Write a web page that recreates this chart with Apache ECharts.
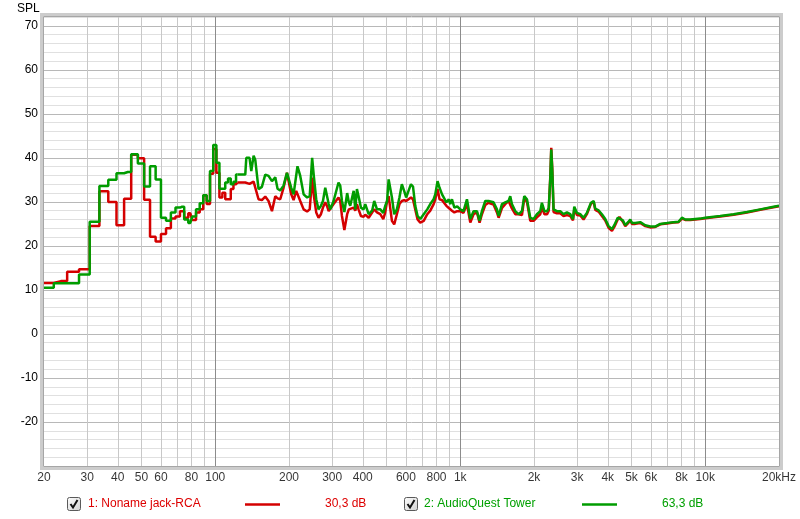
<!DOCTYPE html>
<html>
<head>
<meta charset="utf-8">
<script src="https://cdn.jsdelivr.net/npm/echarts@6/dist/echarts.min.js"></script>
<style>
html,body{margin:0;padding:0;background:#fff;}
#chart{width:800px;height:519px;}
</style>
</head>
<body>
<div id="chart"></div>
<script>
// ---- Low-frequency FFT bins (stepped part) ----
const freqLo = [20, 20.51, 23.44, 26.37, 29.30, 32.23, 35.16, 38.09, 41.02, 43.95, 46.88, 49.80, 52.73, 55.66, 58.59, 61.52, 64.45, 67.38, 70.31, 73.24, 76.17, 79.10, 82.03, 84.96, 87.89, 90.82, 93.75, 96.68, 99.61, 102.54, 105.47, 108.40, 111.33, 114.26, 117.19, 120.12, 123.05];
const redLo   = [11.6, 11.6, 12.0, 14.1, 14.7, 24.5, 32.4, 30.0, 24.7, 30.7, 40.7, 39.9, 30.5, 22.1, 21.0, 22.7, 24.0, 26.2, 26.7, 27.9, 26.4, 27.4, 25.9, 27.6, 28.3, 31.5, 29.5, 36.4, 42.0, 36.6, 31.0, 32.1, 30.6, 30.6, 32.9, 34.0, 34.4];
const greenLo = [10.5, 10.5, 11.5, 11.5, 13.5, 25.5, 33.6, 35.0, 36.5, 36.8, 40.8, 38.7, 33.5, 38.1, 35.1, 26.4, 25.7, 27.6, 28.7, 28.9, 26.0, 25.2, 26.7, 28.3, 29.7, 31.5, 30.2, 37.0, 42.9, 38.9, 33.0, 33.0, 34.4, 35.3, 34.0, 34.6, 36.2];

// ---- Higher frequencies (continuous part) ----
const freqHi = [123.05, 132.6, 133.9, 138.0, 140.3, 143.4, 145.7, 150.2, 155.0, 160.0, 165.0, 170.4, 175.8, 179.6, 184.2, 190.0, 196.2, 199.2, 204.3, 208.8, 214.0, 216.6, 222.3, 229.5, 237.1, 243.0, 248.6, 252.5, 258.3, 264.0, 270.0, 275.2, 281.2, 285.8, 290.4, 294.7, 304.1, 318.5, 323.7, 329.0, 336.5, 345.5, 351.0, 355.6, 367.3, 372.8, 378.7, 384.5, 393.2, 403.0, 409.5, 422.8, 436.8, 445.6, 457.4, 471.6, 485.1, 493.6, 502.8, 510.2, 518.0, 526.2, 537.6, 551.2, 564.7, 577.6, 590.2, 601.6, 615.0, 629.2, 641.3, 655.2, 669.6, 686.8, 709.4, 733.4, 754.5, 778.8, 790.7, 807.9, 823.2, 842.8, 855.4, 877.9, 898.2, 910.3, 925.0, 946.2, 972.0, 1000, 1031, 1065, 1081, 1099, 1133, 1170, 1199, 1226, 1265, 1305, 1326, 1367, 1412, 1434, 1480, 1526, 1575, 1600, 1625, 1677, 1730, 1786, 1825, 1872, 1931, 1992, 2055, 2121, 2154, 2207, 2262, 2297, 2330, 2352, 2375, 2404, 2480, 2559, 2640, 2726, 2812, 2885, 2920, 2995, 3089, 3186, 3287, 3417, 3505, 3556, 3668, 3786, 3907, 4032, 4161, 4254, 4393, 4467, 4610, 4716, 4866, 4943, 5024, 5180, 5429, 5690, 5964, 6252, 6552, 6980, 7424, 7780, 8030, 8287, 8685, 9103, 9541, 10000, 11510, 13050, 14800, 16770, 19000, 20000];
const redHi = [34.4, 34.4, 34.3, 34.1, 33.9, 34.6, 34.3, 30.6, 30.4, 31.2, 30.2, 27.9, 31.3, 30.8, 30.6, 33.2, 36.6, 36.4, 31.7, 30.4, 32.5, 32.5, 30.2, 28.3, 27.8, 28.3, 35.5, 31.5, 27.6, 26.4, 27.2, 28.7, 29.9, 29.1, 27.9, 28.3, 29.5, 31.0, 30.2, 26.8, 23.6, 27.2, 28.3, 28.7, 28.7, 28.0, 29.5, 28.3, 26.8, 26.6, 27.1, 26.4, 27.6, 28.3, 27.6, 27.2, 26.1, 27.5, 30.2, 31.3, 31.0, 25.7, 24.9, 27.2, 29.5, 30.2, 30.4, 30.2, 30.6, 31.0, 30.6, 28.3, 26.0, 25.3, 25.7, 27.2, 28.0, 29.5, 30.6, 32.9, 30.6, 30.4, 30.8, 29.1, 28.6, 28.3, 28.0, 27.6, 27.9, 27.9, 27.5, 29.5, 29.2, 25.3, 27.2, 27.6, 25.3, 27.2, 29.3, 29.8, 30.2, 29.4, 27.6, 26.4, 28.6, 29.5, 30.2, 30.6, 28.5, 27.2, 27.2, 27.0, 30.8, 30.0, 25.7, 25.7, 26.5, 27.2, 28.7, 27.2, 27.2, 28.0, 35.5, 42.3, 37.5, 27.7, 27.4, 27.4, 26.8, 27.0, 26.8, 25.8, 28.3, 27.0, 26.9, 26.0, 27.2, 29.6, 30.0, 28.2, 27.8, 26.8, 25.8, 24.1, 23.4, 24.3, 26.0, 26.6, 25.5, 24.5, 25.3, 25.8, 25.0, 25.0, 25.2, 24.5, 24.2, 24.3, 24.9, 25.1, 25.3, 25.4, 26.2, 25.9, 25.9, 26.0, 26.1, 26.3, 26.7, 27.1, 27.6, 28.2, 28.8, 29.0];
const greenHi = [36.2, 36.2, 40.0, 40.0, 37.0, 40.5, 39.5, 32.9, 33.4, 36.2, 35.9, 34.7, 35.6, 33.0, 32.6, 33.7, 36.6, 36.6, 33.2, 31.7, 36.0, 38.1, 35.9, 31.7, 31.0, 31.3, 40.0, 35.9, 30.6, 28.3, 29.1, 30.2, 33.2, 32.9, 29.5, 28.3, 30.2, 34.4, 33.7, 30.2, 27.7, 32.0, 29.9, 29.1, 32.5, 28.3, 32.9, 31.3, 28.7, 28.3, 29.5, 27.2, 28.0, 30.2, 28.3, 28.3, 27.5, 29.0, 30.2, 35.1, 35.1, 31.0, 27.2, 28.3, 31.0, 34.0, 32.5, 31.0, 32.5, 34.0, 33.5, 29.1, 26.8, 26.1, 27.2, 28.3, 29.5, 30.6, 31.7, 34.7, 33.2, 31.7, 32.1, 29.9, 30.6, 29.5, 30.6, 28.7, 29.0, 28.3, 27.9, 30.6, 30.2, 26.1, 27.9, 27.9, 25.7, 27.9, 30.2, 30.2, 30.6, 29.9, 28.3, 26.8, 29.5, 29.9, 30.2, 31.3, 29.5, 27.9, 27.2, 27.9, 31.3, 30.6, 26.4, 26.1, 27.2, 27.9, 29.8, 27.9, 27.9, 28.6, 35.1, 41.9, 37.0, 28.3, 27.9, 27.9, 27.2, 27.6, 27.2, 26.1, 28.9, 27.5, 27.2, 26.4, 27.5, 29.8, 30.2, 28.5, 28.1, 27.2, 26.1, 24.5, 23.8, 24.7, 26.4, 26.6, 25.8, 24.7, 25.5, 26.0, 25.2, 25.2, 25.4, 24.7, 24.4, 24.4, 25.0, 25.2, 25.4, 25.5, 26.4, 26.0, 26.0, 26.1, 26.2, 26.4, 26.8, 27.2, 27.7, 28.3, 28.9, 29.1];

// ---- Axis ticks ----
const xTickValues = [20, 30, 40, 50, 60, 80, 100, 200, 300, 400, 600, 800, 1000, 2000, 3000, 4000, 5000, 6000, 8000, 10000, 20000];
const xTickLabels = ['20', '30', '40', '50', '60', '80', '100', '200', '300', '400', '600', '800', '1k', '2k', '3k', '4k', '5k', '6k', '8k', '10k', '20kHz'];
const xGridMinor = [30, 40, 50, 60, 70, 80, 90, 200, 300, 400, 500, 600, 700, 800, 900, 2000, 3000, 4000, 5000, 6000, 7000, 8000, 9000];
const xGridMajor = [100, 1000, 10000];
const yLabelValues = [70, 60, 50, 40, 30, 20, 10, 0, -10, -20];

// ---- Legend ----
const legendNames = ['1: Noname jack-RCA', '2: AudioQuest Tower'];
const legendLevels = ['30,3 dB', '63,3 dB'];

const RED = '#d40000', GREEN = '#009c00';
const FONT = '"Liberation Sans", Arial, sans-serif';

const G = {left: 44, top: 17, right: 779, bottom: 466};

const pair = (f, v) => f.map((x, i) => [x, v[i]]);

const markData = xGridMinor.map(v => ({xAxis: v, lineStyle: {color: '#c8c8c8', width: 1, type: 'solid'}}))
  .concat(xGridMajor.map(v => ({xAxis: v, lineStyle: {color: '#8c8c8c', width: 1, type: 'solid'}})));

function checkbox(x, y) {
  return [
    {type: 'rect', shape: {x: x + 0.5, y: y + 0.5, width: 13, height: 13, r: 2},
     style: {fill: new echarts.graphic.LinearGradient(0, 0, 1, 1, [{offset: 0, color: '#ffffff'}, {offset: 1, color: '#d0d0d0'}]), stroke: '#5a5a5a', lineWidth: 1}},
    {type: 'polyline', shape: {points: [[x + 3.5, y + 7], [x + 6, y + 10.5], [x + 10.5, y + 3]]},
     style: {stroke: '#111', lineWidth: 2, fill: null}}
  ];
}

const graphics = [
  {type: 'rect', shape: {x: 41.5, y: 14.5, width: 740, height: 454}, style: {fill: null, stroke: '#cccccc', lineWidth: 3}, z: 10},
  {type: 'rect', shape: {x: 43.5, y: 16.5, width: 736, height: 450}, style: {fill: null, stroke: '#a6a6a6', lineWidth: 1}, z: 10},
  {type: 'text', left: 17, top: 3, style: {text: 'SPL', font: '12px ' + FONT, fill: '#000'}},
  ...checkbox(67, 497),
  {type: 'text', x: 88, y: 504, style: {text: legendNames[0], font: '12px ' + FONT, fill: '#dd0000', verticalAlign: 'middle'}},
  {type: 'line', shape: {x1: 245, y1: 504.5, x2: 280, y2: 504.5}, style: {stroke: RED, lineWidth: 2.5}},
  {type: 'text', x: 325, y: 504, style: {text: legendLevels[0], font: '12px ' + FONT, fill: '#dd0000', verticalAlign: 'middle'}},
  ...checkbox(404, 497),
  {type: 'text', x: 424, y: 504, style: {text: legendNames[1], font: '12px ' + FONT, fill: '#00a000', verticalAlign: 'middle'}},
  {type: 'line', shape: {x1: 582, y1: 504.5, x2: 617, y2: 504.5}, style: {stroke: GREEN, lineWidth: 2.5}},
  {type: 'text', x: 662, y: 504, style: {text: legendLevels[1], font: '12px ' + FONT, fill: '#00a000', verticalAlign: 'middle'}}
];

const chart = echarts.init(document.getElementById('chart'), null, {renderer: 'canvas'});
chart.setOption({
  animation: false,
  backgroundColor: '#ffffff',
  grid: {left: G.left, top: G.top, width: G.right - G.left, height: G.bottom - G.top, containLabel: false},
  xAxis: {
    type: 'log', logBase: 10, min: 20, max: 20000,
    axisLine: {show: false}, axisTick: {show: false}, axisLabel: {show: false},
    splitLine: {show: false}, minorSplitLine: {show: false}
  },
  yAxis: {
    type: 'value', min: -30, max: 72, interval: 2,
    axisLine: {show: false}, axisTick: {show: false},
    axisLabel: {
      interval: 0, margin: 6, fontSize: 12, fontFamily: FONT, color: '#000',
      formatter: v => (yLabelValues.indexOf(v) >= 0 ? String(v) : '')
    },
    splitLine: {show: true, lineStyle: {color: ['#b8b8b8', '#e0e0e0', '#e0e0e0', '#e0e0e0', '#e0e0e0'], width: 1}}
  },
  graphic: graphics,
  series: [
    {
      type: 'scatter', name: 'ticks', silent: true, z: 1,
      symbolSize: 0, data: xTickValues.map(v => [v, -30]),
      label: {show: true, position: 'bottom', distance: 6, fontSize: 12, fontFamily: FONT, color: '#000',
        formatter: p => xTickLabels[p.dataIndex]},
      markLine: {silent: true, symbol: ['none', 'none'], z: 1, label: {show: false}, emphasis: {disabled: true}, data: markData}
    },
    {type: 'line', name: 'red-lo', data: pair(freqLo, redLo), step: 'middle', showSymbol: false, z: 3,
     lineStyle: {color: RED, width: 2.5}, itemStyle: {color: RED}, silent: true},
    {type: 'line', name: 'red-hi', data: pair(freqHi, redHi), showSymbol: false, z: 3,
     lineStyle: {color: RED, width: 2.5}, itemStyle: {color: RED}, silent: true},
    {type: 'line', name: 'green-lo', data: pair(freqLo, greenLo), step: 'middle', showSymbol: false, z: 4,
     lineStyle: {color: GREEN, width: 2.5}, itemStyle: {color: GREEN}, silent: true},
    {type: 'line', name: 'green-hi', data: pair(freqHi, greenHi), showSymbol: false, z: 4,
     lineStyle: {color: GREEN, width: 2.5}, itemStyle: {color: GREEN}, silent: true}
  ]
});
</script>
</body>
</html>
